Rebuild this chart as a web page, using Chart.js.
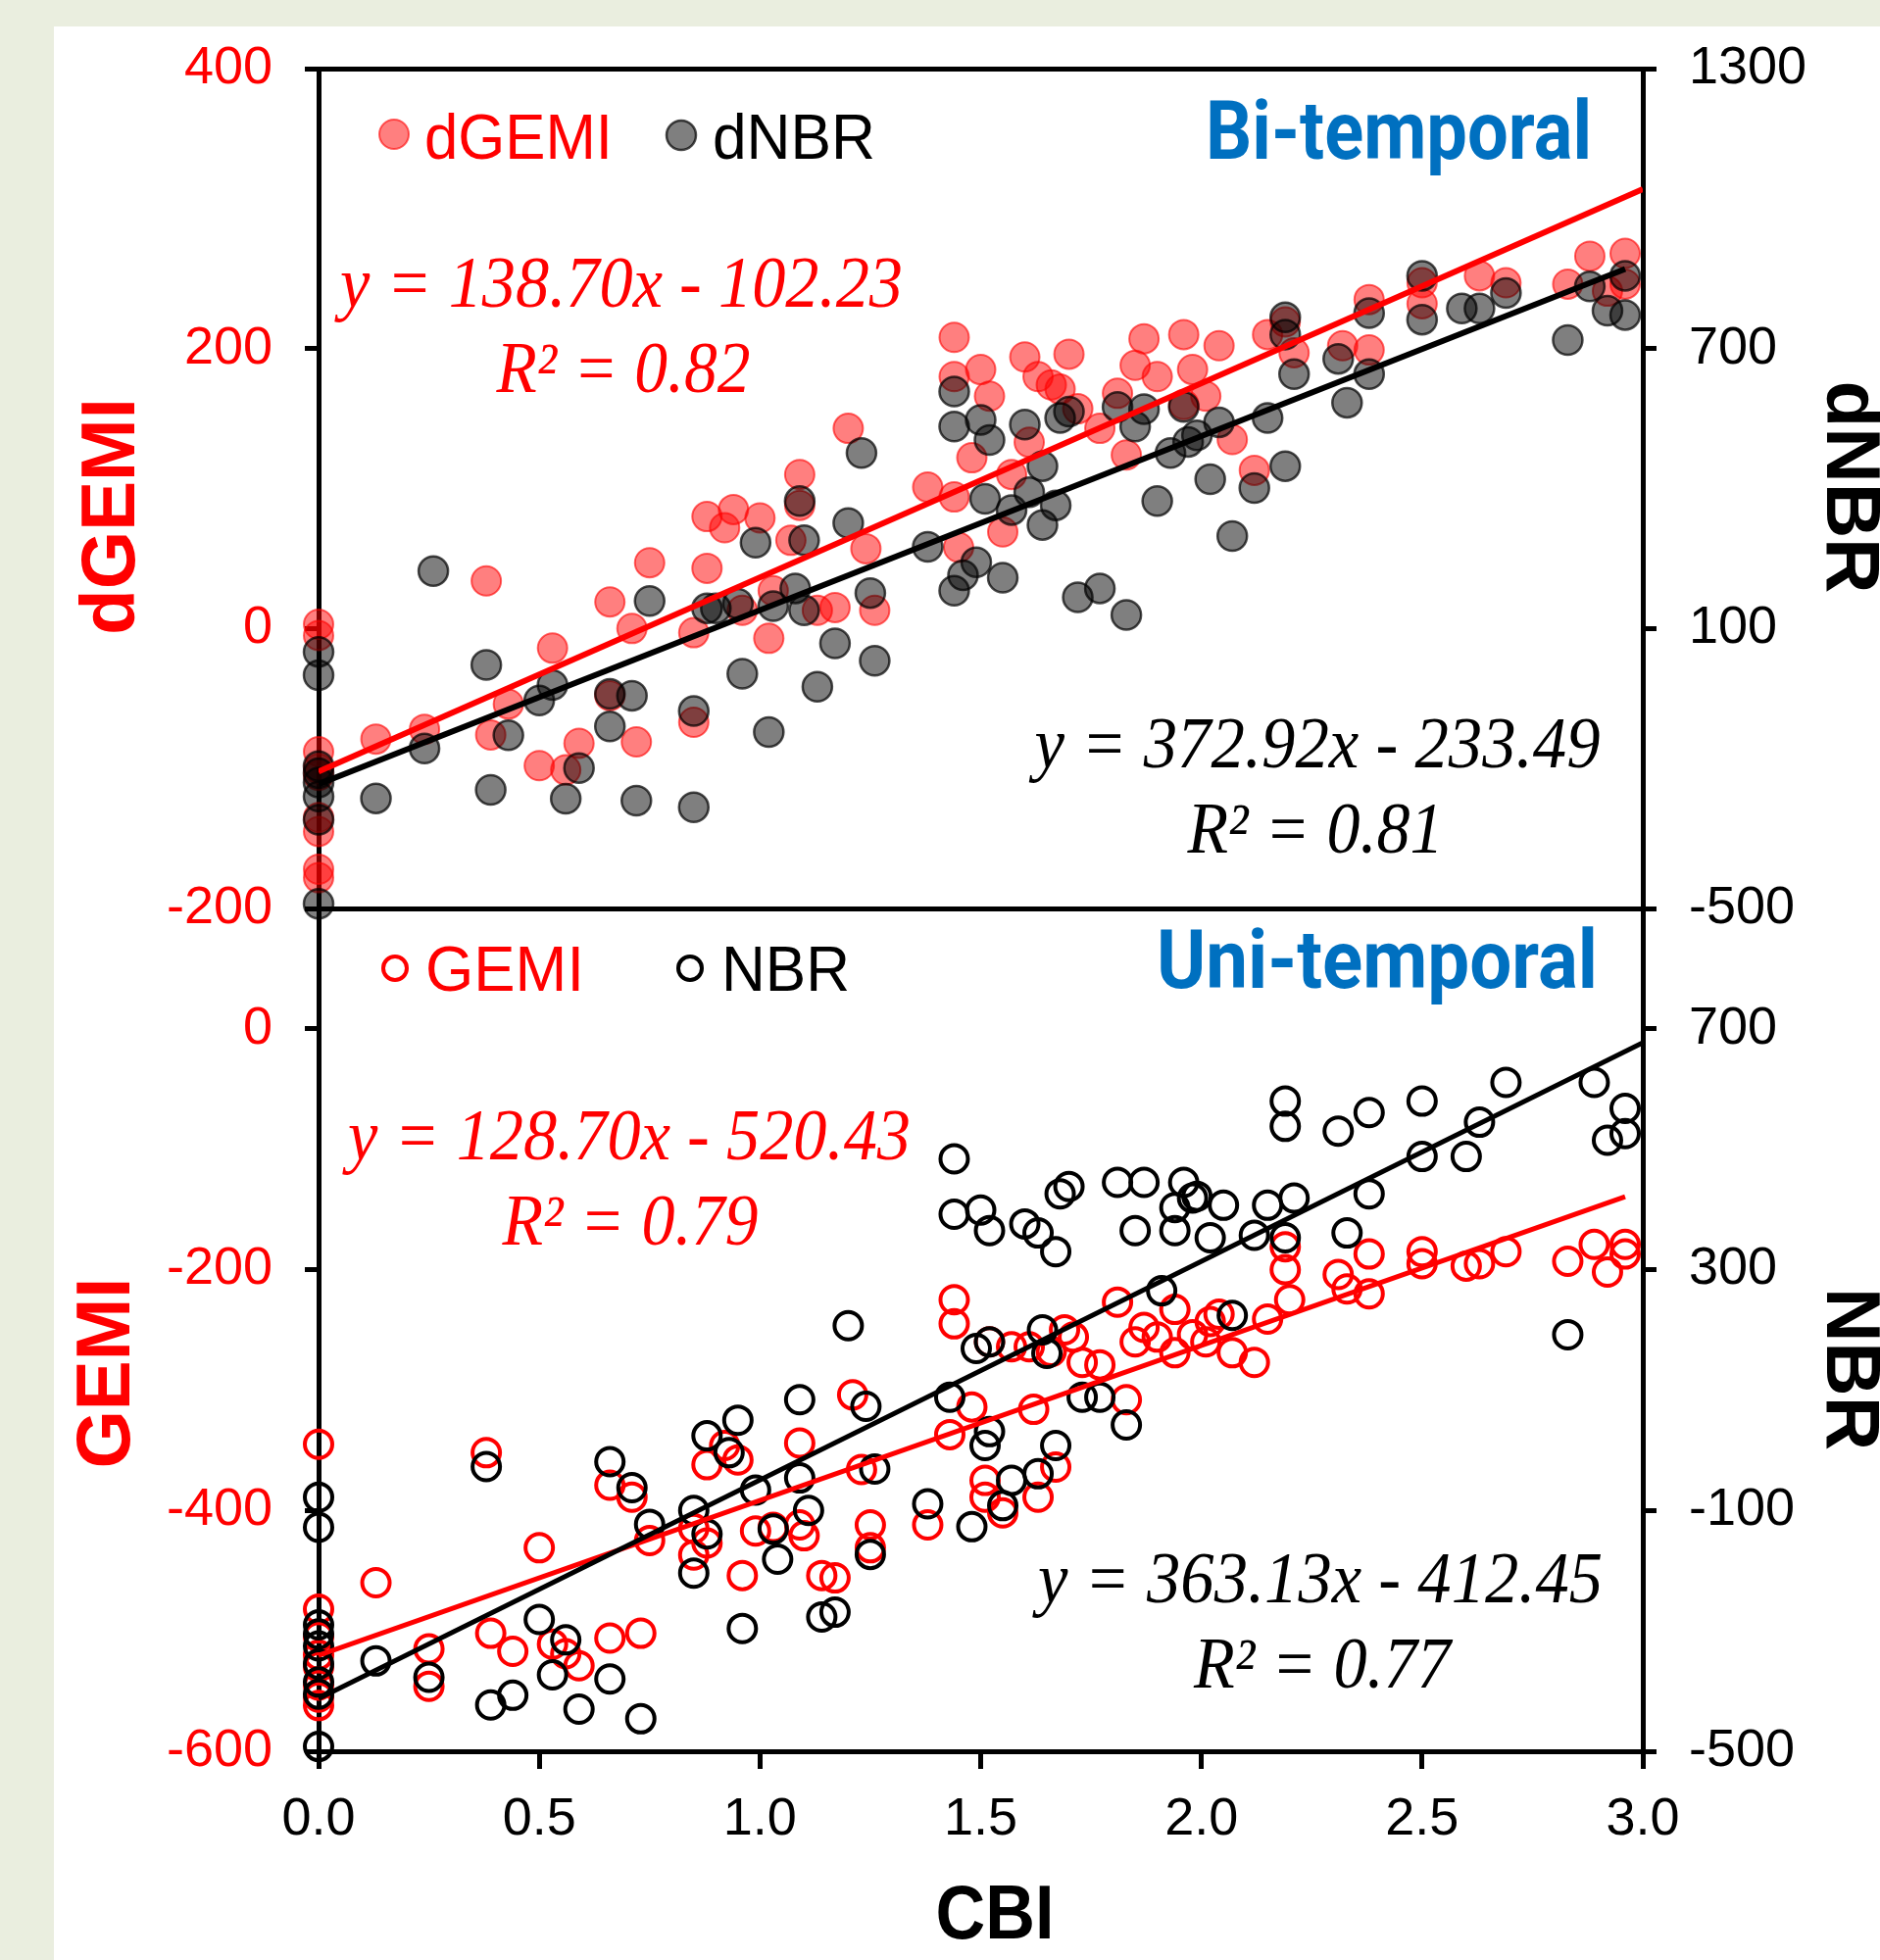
<!DOCTYPE html>
<html>
<head>
<meta charset="utf-8">
<script src="https://cdn.jsdelivr.net/npm/chart.js@4.4.1/dist/chart.umd.min.js"></script>
<style>
  html, body { margin: 0; padding: 0; }
  body { width: 1918px; height: 2000px; background: #eaeedf; position: relative; overflow: hidden; }
  #panel { position: absolute; left: 55px; top: 27px; right: 0; bottom: 0; background: #fff; }
  canvas { position: absolute; left: 0; top: 0; }
</style>
</head>
<body>
<div id="panel"></div>
<canvas id="biChart" width="1918" height="2000"></canvas>
<canvas id="uniChart" width="1918" height="2000"></canvas>
<script>
// Bi-temporal panel (top): CBI vs dGEMI / dNBR
const dgemiCBI = [0, 0, 0, 0, 0, 0, 0, 0, 0,
  0.13, 0.24, 0.38, 0.39, 0.43, 0.50, 0.53, 0.56, 0.59, 0.66, 0.66, 0.71, 0.72, 0.75, 0.85, 0.85,
  0.88, 0.88, 0.92, 0.94, 0.96, 1.00, 1.02, 1.03, 1.07, 1.09, 1.09, 1.13, 1.17, 1.20, 1.24, 1.26,
  1.38, 1.44, 1.44, 1.44, 1.45, 1.48, 1.50, 1.52, 1.55, 1.57, 1.60, 1.61, 1.63, 1.66, 1.68, 1.70,
  1.72, 1.77, 1.81, 1.83, 1.85, 1.87, 1.90, 1.96, 1.96, 1.98, 2.01, 2.04, 2.07, 2.12, 2.15, 2.19,
  2.21, 2.32, 2.38, 2.38, 2.50, 2.50, 2.63, 2.69, 2.83, 2.88, 2.92, 2.96, 2.96];
const dgemiVal = [3, -5, -88, -100, -105, -135, -145, -172, -178,
  -79, -72, 34, -76, -54, -98, -14, -101, -82, 19, -48, 0, -81, 47, -3, -67,
  80, 43, 72, 85, 13, 79, -7, 27, 63, 110, 88, 13, 15, 143, 57, 13,
  101, 208, 180, 94, 58, 122, 185, 166, 69, 110, 194, 133, 180, 174, 171, 196,
  157, 143, 168, 124, 188, 207, 180, 210, 160, 185, 166, 202, 135, 113, 210, 219,
  197, 202, 199, 235, 247, 232, 252, 247, 246, 266, 241, 268, 246];

const dnbrCBI = [0, 0, 0, 0, 0, 0, 0, 0,
  0.13, 0.24, 0.26, 0.38, 0.39, 0.43, 0.50, 0.53, 0.56, 0.59, 0.66, 0.66, 0.71, 0.72, 0.75, 0.85,
  0.85, 0.88, 0.90, 0.95, 0.96, 0.99, 1.02, 1.03, 1.08, 1.09, 1.10, 1.10, 1.13, 1.17, 1.20, 1.23,
  1.25, 1.26, 1.38, 1.44, 1.44, 1.44, 1.46, 1.49, 1.50, 1.51, 1.52, 1.55, 1.57, 1.60, 1.61, 1.64,
  1.64, 1.67, 1.68, 1.70, 1.72, 1.77, 1.81, 1.83, 1.85, 1.87, 1.90, 1.93, 1.96, 1.97, 1.99, 2.02,
  2.04, 2.07, 2.12, 2.15, 2.19, 2.19, 2.19, 2.21, 2.31, 2.33, 2.38, 2.38, 2.50, 2.50, 2.59, 2.63,
  2.69, 2.83, 2.88, 2.92, 2.96, 2.96];
const dnbrVal = [50, 0, -195, -210, -230, -260, -310, -490,
  -264, -157, 223, 22, -246, -129, -54, -21, -265, -199, -40, -110, -44, -269, 159, -77,
  -283, 143, 143, 153, 3, 284, -122, 148, 186, 373, 289, 139, -25, 68, 326, 476,
  176, 31, 275, 608, 533, 181, 214, 242, 547, 378, 504, 209, 354, 537, 392, 322,
  448, 364, 551, 565, 167, 186, 575, 129, 533, 570, 373, 476, 575, 500, 514, 420,
  542, 298, 401, 551, 767, 730, 448, 645, 678, 584, 776, 645, 856, 762, 786, 786,
  819, 718, 833, 781, 856, 772];

// Uni-temporal panel (bottom): CBI vs GEMI / NBR
const gemiCBI = [0, 0, 0, 0, 0, 0, 0, 0,
  0.13, 0.25, 0.25, 0.38, 0.39, 0.44, 0.50, 0.53, 0.56, 0.59, 0.66, 0.66, 0.71, 0.73, 0.75, 0.85,
  0.85, 0.88, 0.88, 0.92, 0.95, 0.96, 0.99, 1.03, 1.09, 1.09, 1.10, 1.14, 1.17, 1.21, 1.23, 1.25,
  1.25, 1.38, 1.43, 1.44, 1.44, 1.48, 1.51, 1.51, 1.52, 1.55, 1.57, 1.61, 1.62, 1.63, 1.66, 1.67,
  1.69, 1.71, 1.73, 1.77, 1.81, 1.83, 1.85, 1.87, 1.90, 1.94, 1.94, 1.98, 2.01, 2.02, 2.04, 2.07,
  2.12, 2.15, 2.19, 2.19, 2.20, 2.31, 2.33, 2.38, 2.38, 2.50, 2.50, 2.60, 2.63, 2.69, 2.83, 2.89,
  2.92, 2.96, 2.96];
const gemiVal = [-345, -482, -505, -520, -530, -545, -555, -562,
  -460, -515, -546, -352, -502, -517, -431, -511, -519, -529, -506, -379, -389, -502, -425, -437,
  -415, -362, -427, -346, -358, -454, -417, -414, -344, -412, -421, -454, -456, -304, -366, -412,
  -431, -412, -337, -225, -245, -314, -389, -375, -260, -402, -264, -264, -316, -389, -268, -364,
  -250, -256, -277, -279, -227, -308, -260, -248, -256, -269, -233, -254, -260, -243, -237, -269,
  -277, -241, -181, -200, -225, -204, -216, -187, -220, -185, -195, -197, -195, -185, -193, -179,
  -202, -179, -187];

const nbrCBI = [0, 0, 0, 0, 0, 0, 0, 0, 0,
  0.13, 0.25, 0.38, 0.39, 0.44, 0.50, 0.53, 0.56, 0.59, 0.66, 0.66, 0.71, 0.73, 0.75, 0.85, 0.85,
  0.88, 0.88, 0.93, 0.95, 0.96, 0.99, 1.03, 1.04, 1.09, 1.09, 1.11, 1.14, 1.17, 1.20, 1.24, 1.25,
  1.26, 1.38, 1.43, 1.44, 1.44, 1.48, 1.49, 1.50, 1.51, 1.52, 1.52, 1.52, 1.55, 1.57, 1.60, 1.63,
  1.63, 1.64, 1.65, 1.67, 1.67, 1.68, 1.70, 1.73, 1.77, 1.81, 1.83, 1.85, 1.87, 1.91, 1.94, 1.94,
  1.96, 1.98, 1.99, 2.02, 2.05, 2.07, 2.12, 2.15, 2.19, 2.19, 2.19, 2.21, 2.31, 2.33, 2.38, 2.38,
  2.50, 2.50, 2.60, 2.63, 2.69, 2.83, 2.89, 2.92, 2.96, 2.96];
const nbrVal = [-78, -128, -290, -305, -325, -355, -385, -405, -492,
  -350, -377, -27, -423, -407, -281, -373, -315, -430, -19, -380, -62, -446, -123, -100, -204,
  24, -139, -4, 50, -296, -66, -131, -181, 84, -46, -100, -277, -269, 207, 73, -173,
  -31, -89, 88, 484, 392, -127, 169, 399, 8, 365, 180, 31, -92, -50, 376, 361,
  -39, 200, 161, 330, 8, 426, 438, 88, 88, 445, 42, 365, 445, 265, 403, 365,
  445, 419, 422, 353, 407, 224, 357, 407, 580, 538, 353, 419, 530, 361, 561, 426,
  580, 488, 488, 545, 611, 192, 611, 515, 568, 526];

// linear fits: [slope, intercept, last CBI of the line]
const dgemiFit = [138.70, -102.23, 3.0];
const dnbrFit = [372.92, -233.49, 2.96];
const gemiFit = [128.70, -520.43, 2.96];
const nbrFit = [363.13, -412.45, 3.0];

// axis ticks
const cbiTicks = [0, 0.5, 1.0, 1.5, 2.0, 2.5, 3.0];
const dgemiTicks = [-200, 0, 200, 400];
const dnbrTicks = [-500, 100, 700, 1300];
const gemiTicks = [-600, -400, -200, 0];
const nbrTicks = [-500, -100, 300, 700];

const RED = '#ff0000';
const tickFont = { family: "'Liberation Sans', Arial, sans-serif", size: 54 };
const sans = "'Liberation Sans', Arial, sans-serif";
const serif = "'Liberation Serif', 'Times New Roman', serif";

function pts(xs, ys) {
    return xs.map((x, i) => ({ x: x, y: ys[i] }));
}

function fitLine(f) {
    return [{ x: 0, y: f[1] }, { x: f[2], y: f[0] * f[2] + f[1] }];
}

function yAxis(pos, min, max, ticks, color, width, pad) {
    return {
        type: 'linear', position: pos, min: min, max: max,
        afterBuildTicks: s => { s.ticks = ticks.map(v => ({ value: v })); },
        afterFit: s => { s.width = width; },
        grid: { drawOnChartArea: false, drawTicks: true, tickLength: 14, lineWidth: 5, tickWidth: 5, tickColor: '#000' },
        border: { display: true, color: '#000', width: 5 },
        ticks: { color: color, padding: 33, font: tickFont, callback: v => String(v) },
    };
}

// frame line only, no ticks
function frameAxis(pos) {
    return {
        type: 'linear', position: pos, min: 0, max: 3,
        afterFit: s => { s.height = 0; },
        ticks: { display: false },
        grid: { drawOnChartArea: false, drawTicks: false, lineWidth: 5 },
        border: { display: true, color: '#000', width: 5 },
    };
}

// legend, equations and titles
const panelText = {
    id: 'panelText',
    afterDraw(chart, args, opts) {
        const ctx = chart.ctx;
        (opts.marks || []).forEach(m => {
            ctx.save();
            ctx.beginPath();
            ctx.arc(m.x, m.y, m.r, 0, Math.PI * 2);
            if (m.fill) { ctx.fillStyle = m.fill; ctx.fill(); }
            ctx.lineWidth = m.lw;
            ctx.strokeStyle = m.stroke;
            ctx.stroke();
            ctx.restore();
        });
        (opts.items || []).forEach(t => {
            ctx.save();
            ctx.font = t.font;
            ctx.fillStyle = t.color;
            ctx.textAlign = t.align || 'left';
            ctx.textBaseline = t.base || 'alphabetic';
            ctx.translate(t.x, t.y);
            if (t.rot) ctx.rotate(t.rot);
            if (t.w) ctx.scale(t.w / ctx.measureText(t.text).width, 1);
            ctx.fillText(t.text, 0, 0);
            ctx.restore();
        });
    }
};

const filledRed = { pointBackgroundColor: 'rgba(255,0,0,0.5)', pointBorderColor: 'rgba(255,0,0,0.6)', pointBorderWidth: 2, pointRadius: 15 };
const filledDark = { pointBackgroundColor: 'rgba(0,0,0,0.5)', pointBorderColor: 'rgba(0,0,0,0.7)', pointBorderWidth: 2.5, pointRadius: 15 };
const openRed = { pointBackgroundColor: 'rgba(0,0,0,0)', pointBorderColor: RED, pointBorderWidth: 4, pointRadius: 14 };
const openDark = { pointBackgroundColor: 'rgba(0,0,0,0)', pointBorderColor: '#000', pointBorderWidth: 4, pointRadius: 14 };

function baseOptions() {
    return {
        responsive: false,
        animation: false,
        events: [],
        plugins: { legend: { display: false }, tooltip: { enabled: false } },
    };
}

function createBiChart() {
    const ctx = document.getElementById('biChart').getContext('2d');
    const options = baseOptions();
    options.layout = { padding: { top: 70, bottom: 1073, left: 0, right: 0 } };
    options.scales = {
        x: frameAxis('top'),
        yL: yAxis('left', -200, 400, dgemiTicks, RED, 325),
        yR: yAxis('right', -500, 1300, dnbrTicks, '#000', 242),
    };
    options.plugins.panelText = {
        marks: [
            { x: 402, y: 137, r: 15, fill: 'rgba(255,0,0,0.5)', stroke: 'rgba(255,0,0,0.6)', lw: 2 },
            { x: 695, y: 138, r: 15, fill: 'rgba(0,0,0,0.5)', stroke: 'rgba(0,0,0,0.7)', lw: 2.5 },
        ],
        items: [
            { text: 'dGEMI', x: 433, y: 162, font: '64px ' + sans, color: RED, w: 192 },
            { text: 'dNBR', x: 727, y: 162, font: '64px ' + sans, color: '#000', w: 166 },
            { text: 'Bi-temporal', x: 1624, y: 162, align: 'right', font: 'bold 84px Roboto, ' + sans, color: '#0070c0', w: 394 },
            { text: 'y = 138.70x - 102.23', x: 634, y: 313, align: 'center', font: 'italic 74px ' + serif, color: RED, w: 574 },
            { text: 'R\u00b2 = 0.82', x: 636, y: 400, align: 'center', font: 'italic 74px ' + serif, color: RED, w: 259 },
            { text: 'y = 372.92x - 233.49', x: 1344, y: 783, align: 'center', font: 'italic 74px ' + serif, color: '#000', w: 577 },
            { text: 'R\u00b2 = 0.81', x: 1342, y: 870, align: 'center', font: 'italic 74px ' + serif, color: '#000', w: 261 },
            { text: 'dGEMI', x: 115, y: 527, align: 'center', base: 'middle', rot: -Math.PI / 2, font: 'bold 78px ' + sans, color: RED, w: 242 },
            { text: 'dNBR', x: 1886, y: 497, align: 'center', base: 'middle', rot: Math.PI / 2, font: 'bold 78px ' + sans, color: '#000', w: 217 },
        ],
    };
    return new Chart(ctx, {
        type: 'scatter',
        data: {
            datasets: [
                { label: 'dGEMI trend', data: fitLine(dgemiFit), showLine: true, borderColor: RED, borderWidth: 6, pointRadius: 0, yAxisID: 'yL', order: 0 },
                { label: 'dNBR trend', data: fitLine(dnbrFit), showLine: true, borderColor: '#000', borderWidth: 6, pointRadius: 0, yAxisID: 'yR', order: 0 },
                Object.assign({ label: 'dNBR', data: pts(dnbrCBI, dnbrVal), yAxisID: 'yR', clip: false, order: 1 }, filledDark),
                Object.assign({ label: 'dGEMI', data: pts(dgemiCBI, dgemiVal), yAxisID: 'yL', clip: false, order: 2 }, filledRed),
            ],
        },
        options: options,
        plugins: [panelText],
    });
}

function createUniChart() {
    const ctx = document.getElementById('uniChart').getContext('2d');
    const options = baseOptions();
    options.layout = { padding: { top: 927, bottom: 0, left: 0, right: 0 } };
    options.scales = {
        x: {
            type: 'linear', position: 'bottom', min: 0, max: 3,
            afterBuildTicks: s => { s.ticks = cbiTicks.map(v => ({ value: v })); },
            afterFit: s => { s.height = 213; },
            grid: { drawOnChartArea: false, drawTicks: true, tickLength: 18, lineWidth: 5, tickWidth: 5, tickColor: '#000' },
            border: { display: true, color: '#000', width: 5 },
            ticks: { color: '#000', padding: 20, font: tickFont, maxRotation: 0, autoSkip: false, callback: v => v.toFixed(1) },
        },
        xTop: frameAxis('top'),
        yL: yAxis('left', -600, 100, gemiTicks, RED, 325),
        yR: yAxis('right', -500, 900, nbrTicks, '#000', 242),
    };
    options.plugins.panelText = {
        marks: [
            { x: 403, y: 988, r: 12, stroke: RED, lw: 4 },
            { x: 704, y: 988, r: 12, stroke: '#000', lw: 4 },
        ],
        items: [
            { text: 'GEMI', x: 434, y: 1011, font: '64px ' + sans, color: RED, w: 162 },
            { text: 'NBR', x: 736, y: 1011, font: '64px ' + sans, color: '#000', w: 131 },
            { text: 'Uni-temporal', x: 1630, y: 1008, align: 'right', font: 'bold 84px Roboto, ' + sans, color: '#0070c0', w: 450 },
            { text: 'y = 128.70x - 520.43', x: 642, y: 1183, align: 'center', font: 'italic 74px ' + serif, color: RED, w: 574 },
            { text: 'R\u00b2 = 0.79', x: 643, y: 1270, align: 'center', font: 'italic 74px ' + serif, color: RED, w: 261 },
            { text: 'y = 363.13x - 412.45', x: 1347, y: 1635, align: 'center', font: 'italic 74px ' + serif, color: '#000', w: 576 },
            { text: 'R\u00b2 = 0.77', x: 1349, y: 1722, align: 'center', font: 'italic 74px ' + serif, color: '#000', w: 262 },
            { text: 'GEMI', x: 110, y: 1401, align: 'center', base: 'middle', rot: -Math.PI / 2, font: 'bold 78px ' + sans, color: RED, w: 195 },
            { text: 'NBR', x: 1886, y: 1397, align: 'center', base: 'middle', rot: Math.PI / 2, font: 'bold 78px ' + sans, color: '#000', w: 166 },
            { text: 'CBI', x: 1015, y: 1978, align: 'center', font: 'bold 78px ' + sans, color: '#000', w: 121 },
        ],
    };
    return new Chart(ctx, {
        type: 'scatter',
        data: {
            datasets: [
                { label: 'NBR trend', data: fitLine(nbrFit), showLine: true, borderColor: '#000', borderWidth: 5, pointRadius: 0, yAxisID: 'yR', order: 0 },
                { label: 'GEMI trend', data: fitLine(gemiFit), showLine: true, borderColor: RED, borderWidth: 5, pointRadius: 0, yAxisID: 'yL', order: 0 },
                Object.assign({ label: 'NBR', data: pts(nbrCBI, nbrVal), yAxisID: 'yR', clip: false, order: 1 }, openDark),
                Object.assign({ label: 'GEMI', data: pts(gemiCBI, gemiVal), yAxisID: 'yL', clip: false, order: 2 }, openRed),
            ],
        },
        options: options,
        plugins: [panelText],
    });
}

function initializeCharts() {
    createBiChart();
    createUniChart();
}

window.onload = initializeCharts;
</script>
</body>
</html>
